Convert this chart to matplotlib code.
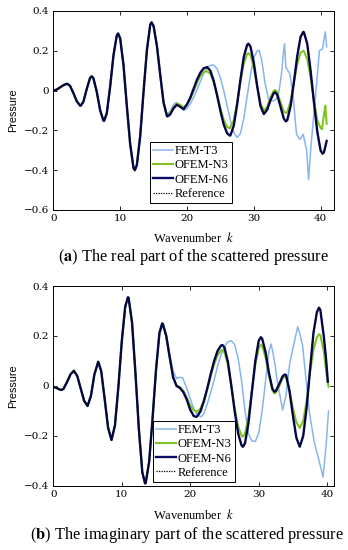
import matplotlib
matplotlib.use("Agg")
import matplotlib.pyplot as plt

plt.rcParams['mathtext.fontset'] = 'stix'

# (k, pressure)
# --- (a) real part ---
ref_real = [
    (0, 0.000), (0.5, 0.005), (1, 0.016), (1.5, 0.027), (2, 0.034), (2.1, 0.034),
    (2.5, 0.024), (3, -0.012), (3.5, -0.053), (4, -0.075), (4.1, -0.076), (4.5, -0.056),
    (5, 0.008), (5.5, 0.064), (5.75, 0.072), (6, 0.062), (6.5, -0.006), (7, -0.098),
    (7.5, -0.151), (7.6, -0.152), (8, -0.114), (8.5, 0.019), (9, 0.177), (9.5, 0.277),
    (9.7, 0.287), (10, 0.263), (10.5, 0.129), (11, -0.077), (11.5, -0.269), (12, -0.389),
    (12.2, -0.400), (12.5, -0.374), (13, -0.229), (13.5, -0.006), (14, 0.202), (14.5, 0.331),
    (14.7, 0.343), (15, 0.325), (15.5, 0.225), (16, 0.078), (16.5, -0.061), (17, -0.128),
    (17.1, -0.130), (17.5, -0.119), (18, -0.088), (18.5, -0.071), (19, -0.082), (19.5, -0.093),
    (20, -0.070), (20.5, -0.035), (21, 0.010), (21.5, 0.055), (22, 0.090), (22.5, 0.112),
    (23, 0.118), (23.5, 0.100), (24, 0.049), (24.5, -0.023), (25, -0.102), (25.5, -0.171),
    (26, -0.214), (26.4, -0.226), (26.5, -0.225), (27, -0.177), (27.5, -0.071), (28, 0.056),
    (28.5, 0.169), (29, 0.230), (29.2, 0.236), (29.5, 0.221), (30, 0.140), (30.5, 0.024),
    (31, -0.078), (31.5, -0.118), (32, -0.096), (32.5, -0.048), (33, -0.012), (33.2, -0.008),
    (33.5, -0.021), (34, -0.082), (34.5, -0.142), (34.8, -0.155), (35, -0.149), (35.5, -0.079),
    (36, 0.043), (36.5, 0.174), (37, 0.270), (37.4, 0.295), (37.5, 0.293), (38, 0.234),
    (38.5, 0.099), (39, -0.060), (39.5, -0.207), (40, -0.302), (40.3, -0.317), (40.5, -0.310),
    (40.9, -0.253),
]
n3_real_tail = [
    (17.0, -0.126), (17.5, -0.113), (18.0, -0.085), (18.5, -0.065), (19.0, -0.072),
    (19.5, -0.085), (20.0, -0.068), (20.5, -0.040), (21.0, -0.002), (21.5, 0.040),
    (22.0, 0.073), (22.5, 0.093), (22.9, 0.098), (23.5, 0.085), (24.0, 0.042), (24.5, -0.020),
    (25.0, -0.088), (25.5, -0.148), (26.0, -0.182), (26.4, -0.190), (27.0, -0.150),
    (27.5, -0.060), (28.0, 0.045), (28.5, 0.135), (29.0, 0.183), (29.2, 0.188), (29.5, 0.178),
    (30.0, 0.115), (30.5, 0.020), (31.0, -0.065), (31.5, -0.100), (32.0, -0.082),
    (32.5, -0.032), (33.0, 0.000), (33.2, 0.003), (33.5, -0.008), (34.0, -0.060),
    (34.5, -0.105), (34.8, -0.112), (35.0, -0.108), (35.5, -0.055), (36.0, 0.040),
    (36.5, 0.135), (37.0, 0.190), (37.4, 0.200), (37.5, 0.198), (38.0, 0.158), (38.5, 0.065),
    (39.0, -0.050), (39.5, -0.150), (40.0, -0.188), (40.2, -0.194), (40.5, -0.120),
    (40.7, -0.076), (40.9, -0.167),
]
fem_real_tail = [
    (15.0, 0.322), (15.5, 0.228), (16.0, 0.085), (16.5, -0.050), (17.0, -0.118),
    (17.5, -0.105), (18.0, -0.070), (18.4, -0.059), (19.0, -0.080), (19.5, -0.100),
    (20.0, -0.090), (20.5, -0.066), (21.0, -0.034), (21.5, 0.005), (22.0, 0.045),
    (22.5, 0.085), (23.0, 0.113), (23.5, 0.127), (24.0, 0.128), (24.5, 0.110), (25.0, 0.065),
    (25.5, 0.000), (26.0, -0.075), (26.5, -0.150), (27.0, -0.210), (27.5, -0.236),
    (28.0, -0.215), (28.5, -0.140), (29.0, -0.030), (29.5, 0.080), (30.0, 0.165),
    (30.5, 0.200), (30.8, 0.203), (31.2, 0.150), (31.7, 0.034), (32.2, -0.042),
    (32.6, -0.050), (33.0, -0.052), (33.4, -0.040), (33.7, -0.017), (34.0, 0.050),
    (34.2, 0.100), (34.4, 0.180), (34.6, 0.236), (34.8, 0.118), (35.1, 0.100), (35.4, 0.084),
    (35.9, -0.034), (36.2, -0.150), (36.4, -0.220), (36.9, -0.245), (37.4, -0.220),
    (37.9, -0.300), (38.2, -0.447), (38.5, -0.300), (38.9, -0.150), (39.4, 0.034),
    (39.8, 0.200), (40.3, 0.210), (40.5, 0.260), (40.7, 0.295), (40.9, 0.220),
]

# --- (b) imaginary part ---
ref_imag = [
    (0, -0.003), (0.5, -0.008), (1.0, -0.015), (1.2, -0.016), (1.5, -0.011), (2.0, 0.016),
    (2.5, 0.046), (3.0, 0.061), (3.5, 0.040), (4.0, -0.010), (4.5, -0.059), (5.0, -0.080),
    (5.5, -0.039), (6.0, 0.046), (6.56, 0.097), (7.0, 0.059), (7.5, -0.052), (8.0, -0.167),
    (8.5, -0.216), (9.0, -0.158), (9.5, -0.005), (10.0, 0.178), (10.5, 0.317), (10.9, 0.355),
    (11.0, 0.352), (11.5, 0.254), (12.0, 0.050), (12.5, -0.174), (13.0, -0.345),
    (13.4, -0.390), (13.5, -0.387), (14.0, -0.303), (14.5, -0.128), (15.0, 0.064),
    (15.5, 0.212), (15.9, 0.250), (16.0, 0.248), (16.5, 0.200), (17.0, 0.115), (17.5, 0.035),
    (18.0, 0.000), (18.5, -0.008), (19.0, -0.025), (19.5, -0.055), (20.0, -0.095),
    (20.5, -0.120), (20.8, -0.123), (21.0, -0.122), (21.5, -0.101), (22.0, -0.060),
    (22.5, -0.008), (23.0, 0.049), (23.5, 0.101), (24.0, 0.141), (24.5, 0.162), (24.7, 0.164),
    (25.0, 0.154), (25.5, 0.097), (26.0, 0.001), (26.5, -0.103), (27.0, -0.190),
    (27.5, -0.238), (27.7, -0.243), (28.0, -0.229), (28.5, -0.149), (29.0, -0.024),
    (29.5, 0.099), (30.0, 0.181), (30.3, 0.195), (30.5, 0.190), (31.0, 0.136), (31.5, 0.052),
    (32.0, -0.011), (32.3, -0.023), (32.5, -0.020), (33.0, 0.008), (33.5, 0.039),
    (33.8, 0.046), (34.0, 0.044), (34.5, -0.020), (35.0, -0.119), (35.5, -0.207),
    (36.0, -0.243), (36.5, -0.200), (37.0, -0.087), (37.5, 0.066), (38.0, 0.213),
    (38.5, 0.296), (38.8, 0.313), (39.0, 0.305), (39.5, 0.200), (39.8, 0.120), (40.1, 0.017),
]
n3_imag_tail = [
    (18.0, 0.002), (18.5, -0.005), (19.0, -0.020), (19.5, -0.046), (20.0, -0.078),
    (20.5, -0.097), (21.0, -0.103), (21.5, -0.090), (22.0, -0.058), (22.5, -0.012),
    (23.0, 0.040), (23.5, 0.088), (24.0, 0.124), (24.5, 0.142), (24.7, 0.144), (25.0, 0.135),
    (25.5, 0.085), (26.0, 0.000), (26.5, -0.090), (27.0, -0.163), (27.5, -0.198),
    (27.7, -0.203), (28.0, -0.190), (28.5, -0.125), (29.0, -0.020), (29.5, 0.085),
    (30.0, 0.152), (30.3, 0.164), (30.5, 0.160), (31.0, 0.115), (31.5, 0.040), (32.0, -0.018),
    (32.3, -0.030), (32.5, -0.027), (33.0, 0.000), (33.5, 0.032), (33.8, 0.037), (34.0, 0.035),
    (34.5, -0.020), (35.0, -0.090), (35.5, -0.145), (36.0, -0.168), (36.5, -0.140),
    (37.0, -0.060), (37.5, 0.055), (38.0, 0.145), (38.5, 0.195), (38.8, 0.207), (39.0, 0.203),
    (39.5, 0.140), (40.0, 0.030), (40.2, -0.003),
]
fem_imag_tail = [
    (15.5, 0.205), (15.9, 0.240), (16.0, 0.240), (16.5, 0.200), (17.0, 0.125), (17.5, 0.060),
    (18.0, 0.030), (18.5, 0.035), (18.9, 0.032), (19.5, -0.010), (20.0, -0.050),
    (20.5, -0.090), (21.0, -0.115), (21.6, -0.123), (22.0, -0.110), (22.5, -0.070),
    (23.0, -0.025), (23.5, 0.025), (24.0, 0.080), (24.5, 0.125), (25.0, 0.158), (25.5, 0.177),
    (26.0, 0.181), (26.5, 0.165), (27.0, 0.110), (27.5, 0.020), (28.0, -0.100),
    (28.5, -0.190), (29.0, -0.220), (29.5, -0.222), (30.0, -0.190), (30.5, -0.100),
    (31.0, 0.020), (31.5, 0.140), (31.8, 0.168), (32.1, 0.130), (32.4, 0.084), (32.7, 0.020),
    (33.0, -0.023), (33.5, -0.096), (34.0, -0.036), (34.5, 0.084), (35.0, 0.151),
    (35.7, 0.237), (36.0, 0.210), (36.4, 0.164), (36.9, 0.031), (37.4, -0.103),
    (38.1, -0.223), (38.6, -0.276), (39.1, -0.330), (39.4, -0.365), (39.85, -0.236),
    (40.2, -0.100),
]

labels = ["FEM-T3", "OFEM-N3", "OFEM-N6", "Reference"]
real_yticks = [-0.6, -0.4, -0.2, 0, 0.2, 0.4]
real_yticklabels = ["\u22120.6", "\u22120.4", "\u22120.2", "0", "0.2", "0.4"]
imag_yticks = [-0.4, -0.2, 0, 0.2, 0.4]
imag_yticklabels = ["\u22120.4", "\u22120.2", "0", "0.2", "0.4"]
xticks = [0, 10, 20, 30, 40]

FEM_C = "#86b6ec"
N3_C = "#7ec322"
N6_C = "#0c0c66"


def with_head(ref, tail):
    # the coarse meshes follow the reference until the tail starts
    start = tail[0][0]
    return [pt for pt in ref if pt[0] < start] + tail


def panel(ax, ref, n3_tail, fem_tail, ylim, yticks, yticklabels, xlim, leg_pos, xlab_y):
    fem = with_head(ref, fem_tail)
    n3 = with_head(ref, n3_tail)
    ax.plot(*zip(*fem), color=FEM_C, lw=1.1, label=labels[0])
    ax.plot(*zip(*n3), color=N3_C, lw=1.5, label=labels[1])
    ax.plot(*zip(*ref), color=N6_C, lw=1.7, label=labels[2])
    ax.plot(*zip(*ref), color="black", lw=0.9, ls=(0, (1, 1)), label=labels[3])

    ax.set_xlim(*xlim)
    ax.set_ylim(*ylim)
    ax.set_xticks(xticks)
    ax.set_xticklabels([str(t) for t in xticks], fontfamily="DejaVu Serif", fontsize=7.5)
    ax.set_yticks(yticks)
    ax.set_yticklabels(yticklabels, fontfamily="DejaVu Serif", fontsize=7.5)
    ax.tick_params(direction="in", top=True, right=True, length=3, width=0.6, pad=3)
    for s in ax.spines.values():
        s.set_linewidth(0.7)

    ax.set_ylabel("Pressure", fontfamily="Liberation Sans", fontsize=7.8)
    ax.yaxis.set_label_coords(-0.125, 0.5)
    ax.set_xlabel("Wavenumber  $k$", fontfamily="Liberation Serif", fontsize=9)
    ax.xaxis.set_label_coords(0.5, xlab_y)

    leg = ax.legend(loc="lower left", bbox_to_anchor=leg_pos, borderaxespad=0,
                    prop={"family": "Liberation Serif", "size": 9},
                    fancybox=False, framealpha=1, edgecolor="black",
                    borderpad=0.25, labelspacing=0.18, handlelength=1.6,
                    handletextpad=0.15)
    leg.get_frame().set_linewidth(0.7)


fig = plt.figure(figsize=(3.48, 5.5), dpi=100)
ax1 = fig.add_axes([0.1532, 0.6182, 0.8066, 0.3618])
ax2 = fig.add_axes([0.1532, 0.1164, 0.8066, 0.3636])

panel(ax1, ref_real, n3_real_tail, fem_real_tail, (-0.6, 0.4), real_yticks,
      real_yticklabels, (0, 42), (0.344, 0.035), -0.105)
panel(ax2, ref_imag, n3_imag_tail, fem_imag_tail, (-0.4, 0.4), imag_yticks,
      imag_yticklabels, (0, 41), (0.355, 0.02), -0.11)

fig.text(0.555, 0.533, r"($\mathbf{a}$) The real part of the scattered pressure",
         ha="center", va="center", fontfamily="Liberation Serif", fontsize=11.8)
fig.text(0.536, 0.027, r"($\mathbf{b}$) The imaginary part of the scattered pressure",
         ha="center", va="center", fontfamily="Liberation Serif", fontsize=11.8)

fig.savefig("out.png", dpi=100)
